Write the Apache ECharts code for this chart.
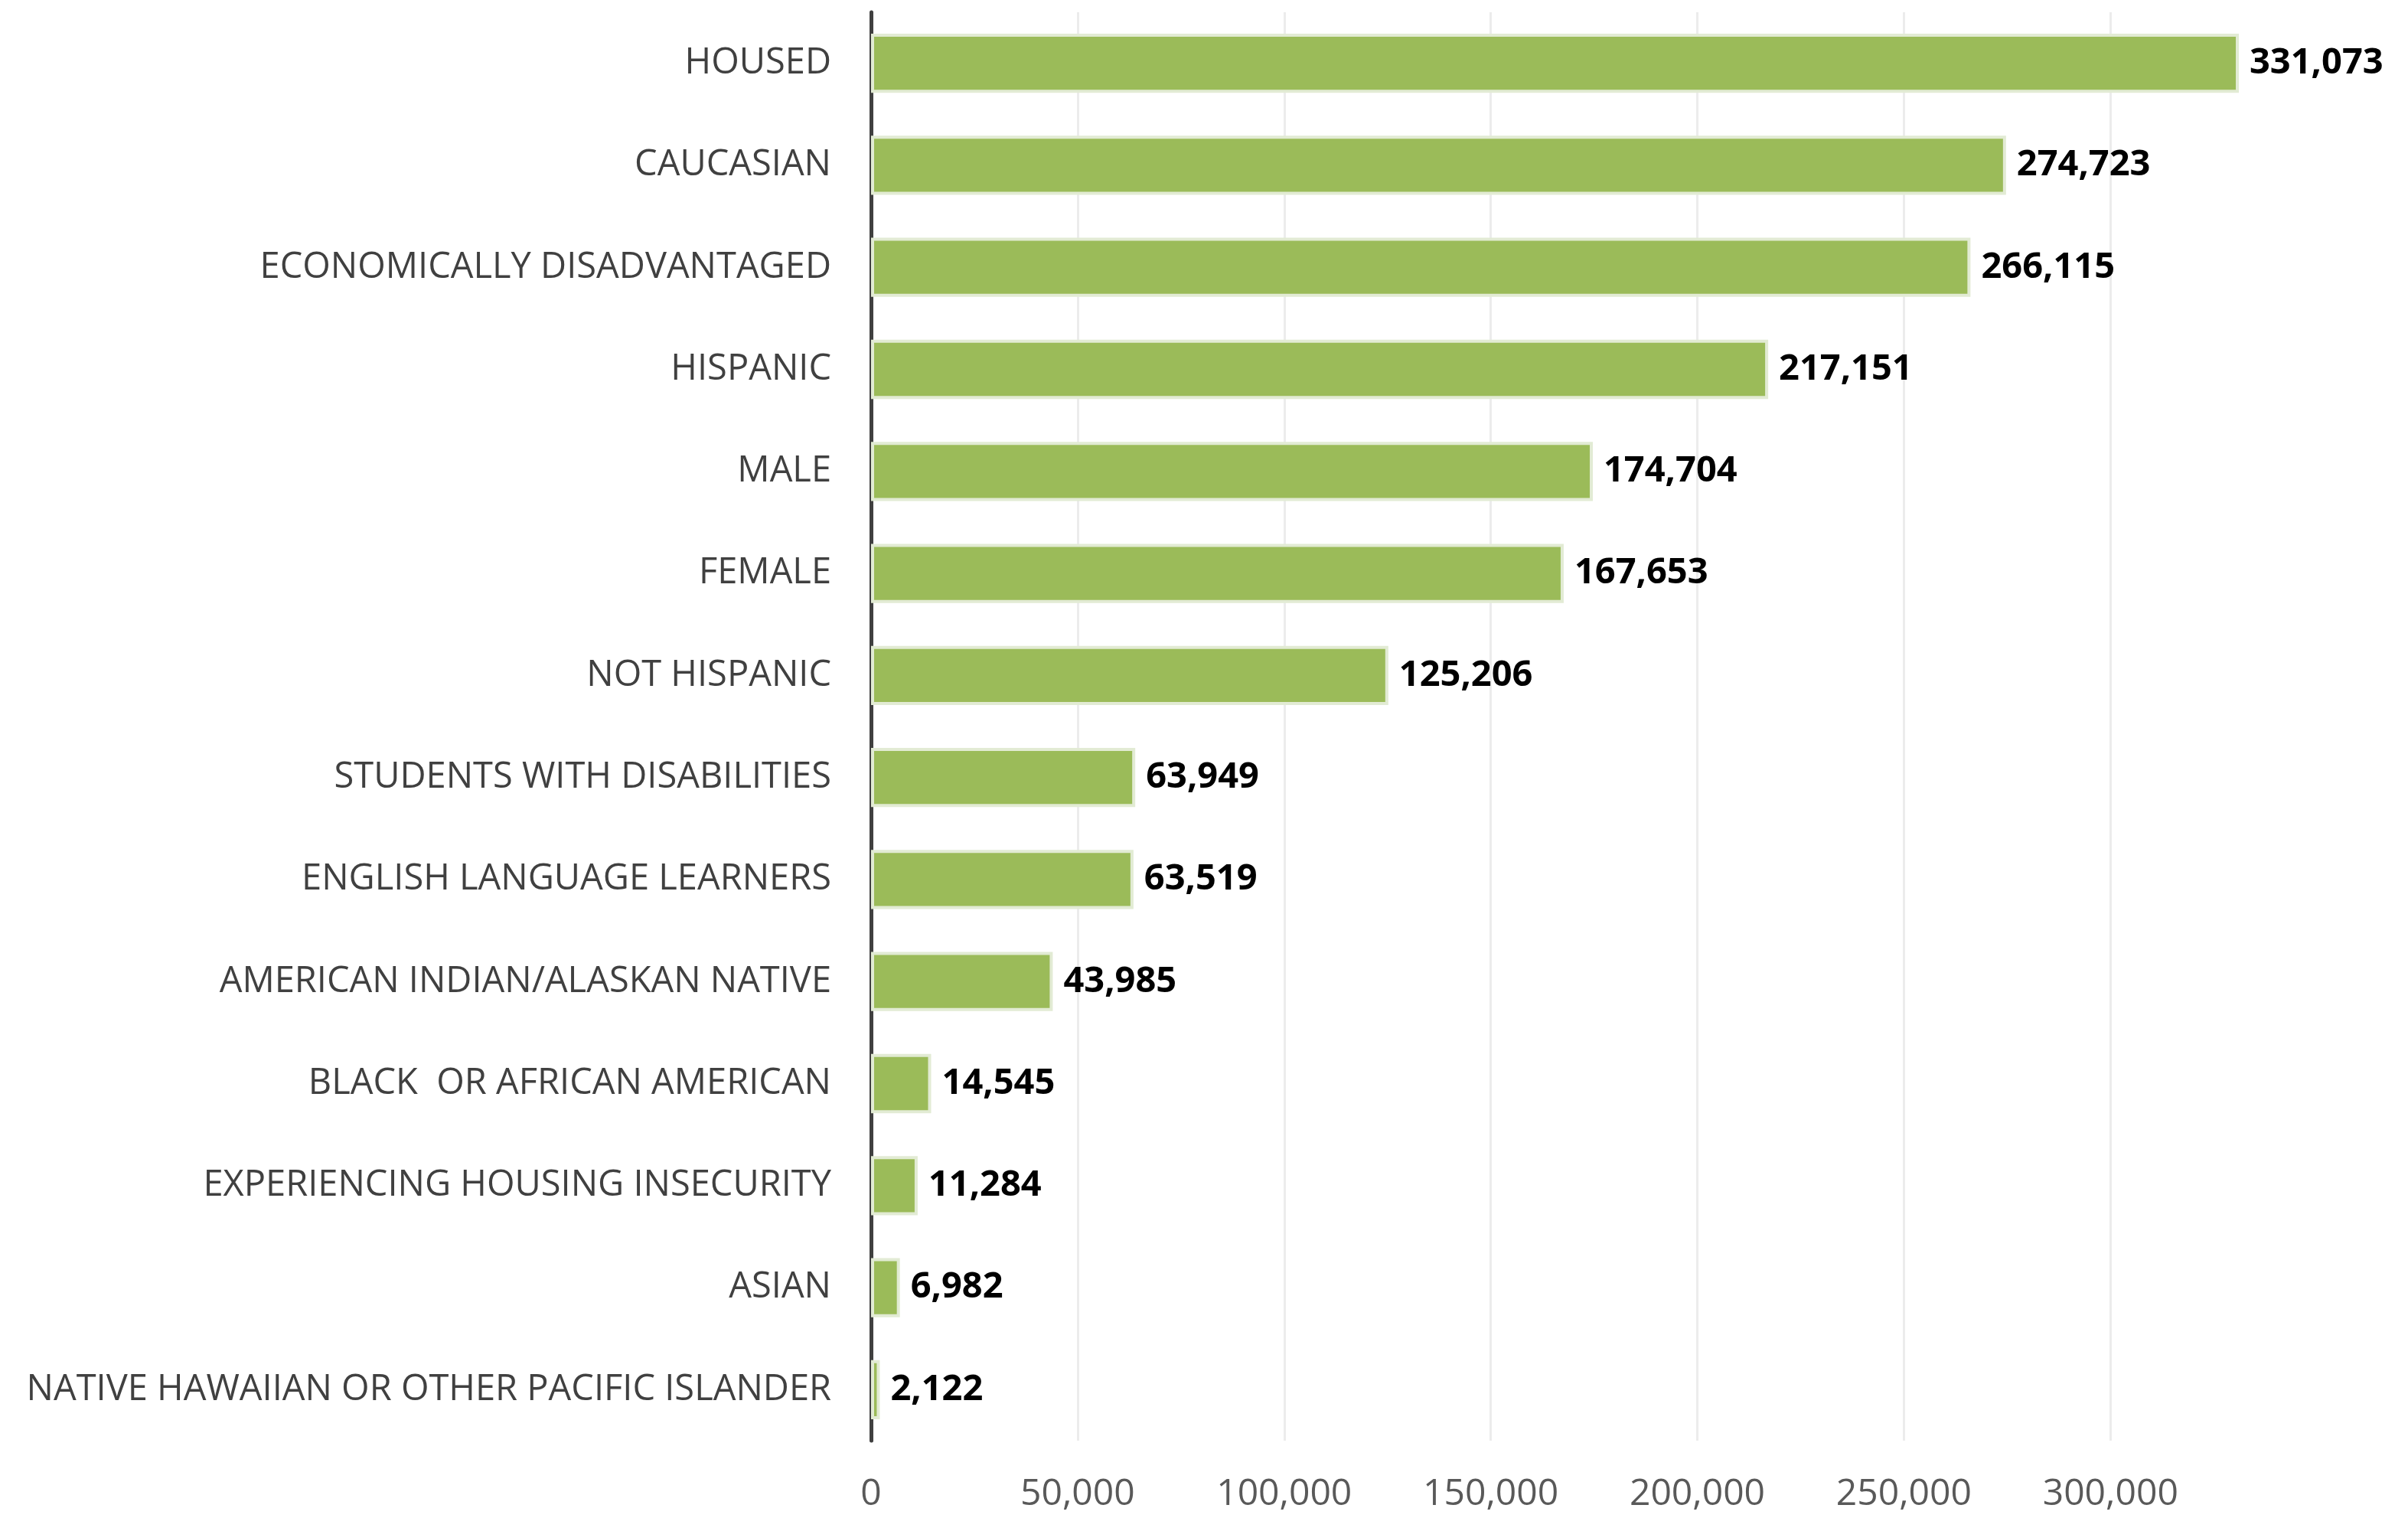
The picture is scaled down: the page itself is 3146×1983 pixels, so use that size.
<!DOCTYPE html>
<html>
<head>
<meta charset="utf-8">
<title>Students by group</title>
<script src="https://cdn.jsdelivr.net/npm/echarts@6/dist/echarts.min.js"></script>
<style>
  html, body { margin: 0; padding: 0; background: #ffffff; }
  #chart { width: 3146px; height: 1983px; }
</style>
</head>
<body>
<div id="chart"></div>
<script>
// categories, top to bottom
var categories = [
  'HOUSED',
  'CAUCASIAN',
  'ECONOMICALLY DISADVANTAGED',
  'HISPANIC',
  'MALE',
  'FEMALE',
  'NOT HISPANIC',
  'STUDENTS WITH DISABILITIES',
  'ENGLISH LANGUAGE LEARNERS',
  'AMERICAN INDIAN/ALASKAN NATIVE',
  'BLACK  OR AFRICAN AMERICAN',
  'EXPERIENCING HOUSING INSECURITY',
  'ASIAN',
  'NATIVE HAWAIIAN OR OTHER PACIFIC ISLANDER'
];
var counts = [331073, 274723, 266115, 217151, 174704, 167653, 125206, 63949, 63519, 43985, 14545, 11284, 6982, 2122];
var xTicks = [0, 50000, 100000, 150000, 200000, 250000, 300000];

var fontFamily = '"Open Sans", "Noto Sans", sans-serif';

var fmt = function (v) {
  return Number(v).toLocaleString('en-US');
};

var chart = echarts.init(document.getElementById('chart'));

chart.setOption({
  backgroundColor: '#ffffff',
  animation: false,
  grid: {
    left: 1138,
    right: 221,
    top: 16,
    bottom: 101,
    containLabel: false
  },
  xAxis: {
    type: 'value',
    min: 0,
    max: 'dataMax',
    interval: 50000,
    axisLine: { show: false },
    axisTick: { show: false },
    splitLine: {
      show: true,
      showMaxLine: false,
      lineStyle: { color: '#ececec', width: 3 }
    },
    axisLabel: {
      show: true,
      showMaxLabel: false,
      margin: 46,
      color: '#595959',
      fontSize: 48,
      fontFamily: fontFamily,
      formatter: function (v) {
        return xTicks.indexOf(v) >= 0 ? fmt(v) : '';
      }
    }
  },
  yAxis: {
    type: 'category',
    data: categories,
    inverse: true,
    axisTick: { show: false },
    axisLine: {
      show: true,
      lineStyle: { color: '#404040', width: 5 }
    },
    axisLabel: {
      margin: 52,
      color: '#404040',
      fontSize: 47,
      fontFamily: fontFamily
    }
  },
  series: [{
    type: 'bar',
    data: counts,
    barWidth: '58%',
    itemStyle: {
      color: '#9bbb59',
      borderColor: '#e2ebd4',
      borderWidth: 4
    },
    label: {
      show: true,
      position: 'right',
      distance: 14,
      color: '#000000',
      fontSize: 47,
      fontWeight: 'bold',
      fontFamily: fontFamily,
      formatter: function (p) {
        return fmt(p.value);
      }
    }
  }]
});
</script>
</body>
</html>
